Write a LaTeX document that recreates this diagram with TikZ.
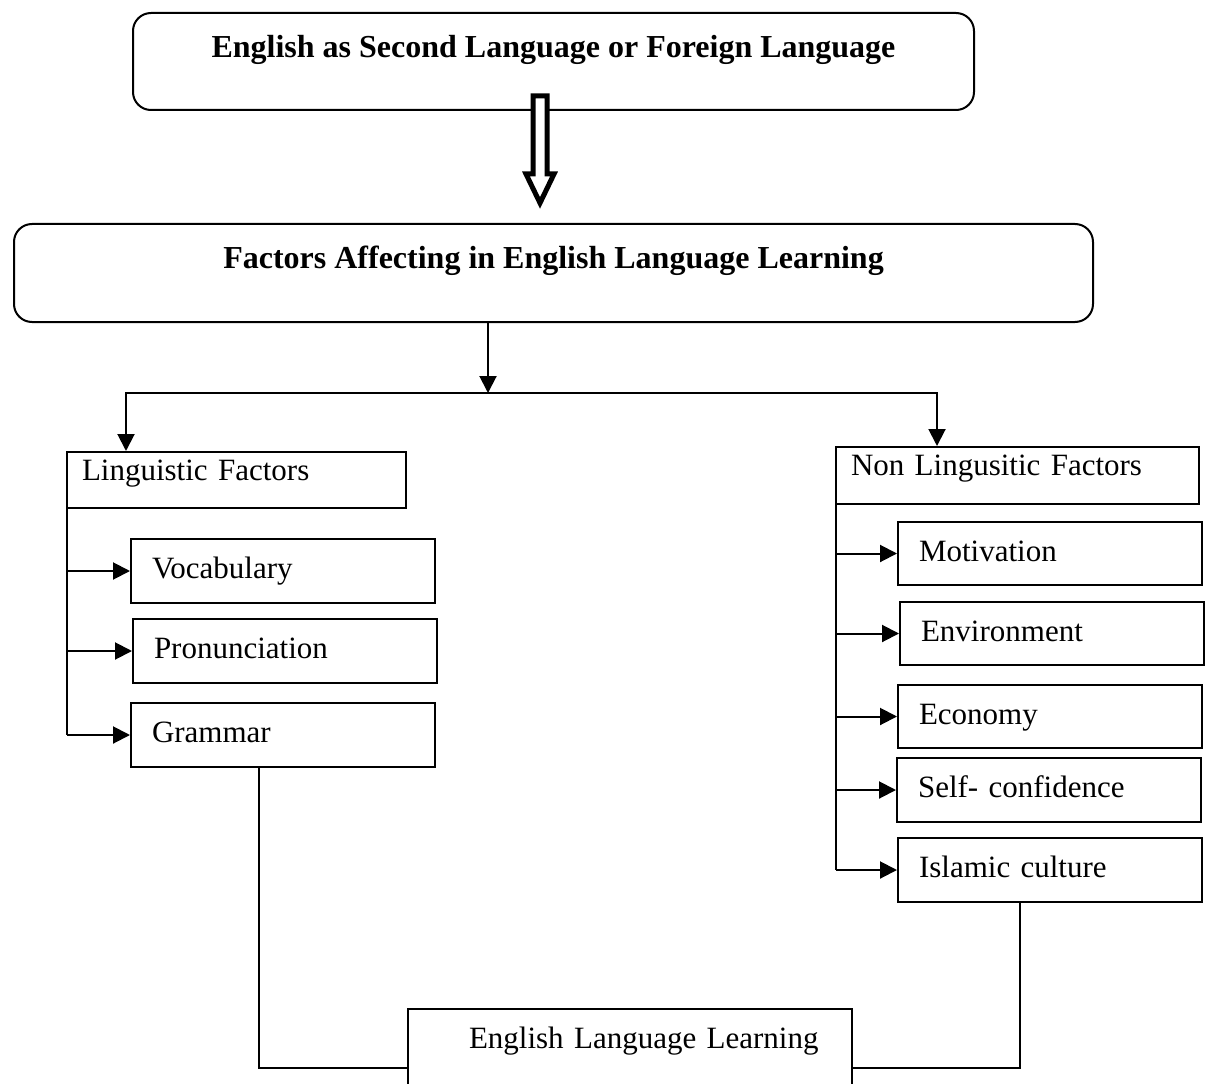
\documentclass[tikz,border=0pt]{standalone}
\usepackage{fontspec}
\setmainfont{Liberation Serif}
\usetikzlibrary{arrows.meta}

\begin{document}
\begin{tikzpicture}[x=1pt,y=-1pt,
    lw/.style={line width=2pt},
    link/.style={lw,-{Triangle[length=17pt,width=17pt]}},
    titlebox/.style={draw,lw,rounded corners=18pt,anchor=north west,inner sep=0pt,
      font=\fontsize{32}{38}\selectfont\bfseries,text height=22pt},
    headbox/.style={draw,lw,anchor=north west,inner xsep=15pt,inner ysep=0pt,align=left,
      font=\fontsize{31}{37}\selectfont,text height=22pt,text depth=22pt},
    itembox/.style={draw,lw,anchor=north west,inner xsep=21pt,inner ysep=0pt,align=left,
      font=\fontsize{31}{37}\selectfont,text height=22pt,text depth=7pt,
      text width=262pt,minimum height=64pt}]
  \useasboundingbox (0,0) rectangle (1206,1083);

  \node[titlebox,minimum width=841pt,minimum height=97pt,text depth=29pt] (esl) at (132,12) {English as Second Language or Foreign Language};
  \node[titlebox,minimum width=1079pt,minimum height=98pt,text depth=32pt] (fal) at (13,223) {Factors Affecting in English Language Learning};
  \draw[line width=5pt,miter limit=10,fill=white] (533,96) -- (547,96) -- (547,174) -- (554,174) -- (540,203) -- (526,174) -- (533,174) -- cycle;

  \node[headbox,text width=309pt,minimum height=56pt] (lf) at (66,451) {Linguistic Factors};
  \node[itembox] (voc) at (130,538) {Vocabulary};
  \node[itembox] (pron) at (132,618) {Pronunciation};
  \node[itembox] (gram) at (130,702) {Grammar};

  \node[headbox,text width=333pt,minimum height=57pt] (nlf) at (835,446) {Non Lingusitic Factors};
  \node[itembox,minimum height=63pt] (mot) at (897,521) {Motivation};
  \node[itembox,minimum height=63pt] (env) at (899,601) {Environment};
  \node[itembox,minimum height=63pt] (eco) at (897,684) {Economy};
  \node[itembox] (self) at (896,757) {Self- confidence};
  \node[itembox] (isl) at (897,837) {Islamic culture};

  \node[headbox,inner xsep=61pt,text width=322pt,minimum height=118pt,text depth=62pt] (ell) at (407,1008) {\mbox{English Language Learning}};

  \coordinate (split) at (488,393);
  \draw[link] (fal.south -| split) -- (split);
  \draw[link] (split) -| ([xshift=60pt]lf.north west);
  \draw[link] (split) -| ([xshift=102pt]nlf.north west);

  \draw[lw] ([xshift=1pt]lf.south west) -- ([xshift=1pt]lf.south west |- gram.west);
  \foreach \n in {voc,pron,gram}
    \draw[link] ([xshift=1pt]lf.south west |- \n.west) -- (\n.west);

  \draw[lw] ([xshift=1pt]nlf.south west) -- ([xshift=1pt]nlf.south west |- isl.west);
  \foreach \n in {mot,env,eco,self,isl}
    \draw[link] ([xshift=1pt]nlf.south west |- \n.west) -- (\n.west);

  \draw[lw] ([xshift=129pt]gram.south west) |- (ell.west);
  \draw[lw] ([xshift=123pt]isl.south west) |- (ell.east);
\end{tikzpicture}
\end{document}
